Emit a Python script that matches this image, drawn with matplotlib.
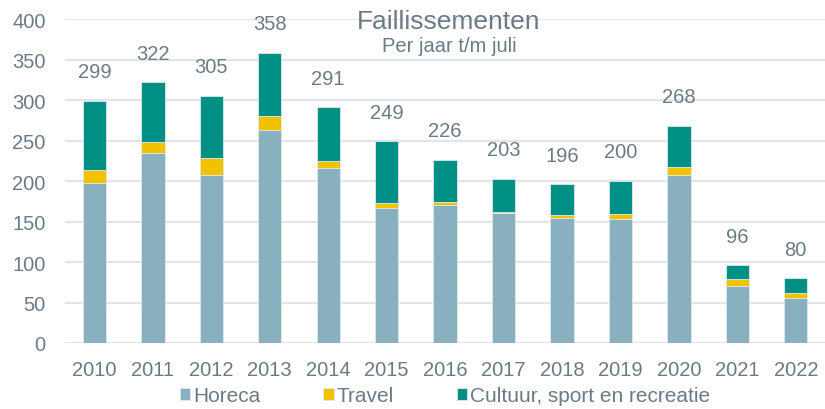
import numpy as np
import matplotlib.pyplot as plt

plt.rcParams['font.family'] = ['Liberation Sans', 'DejaVu Sans']

years = ['2010', '2011', '2012', '2013', '2014', '2015', '2016',
         '2017', '2018', '2019', '2020', '2021', '2022']
horeca = [198, 235, 208, 263, 216, 167, 171, 160, 154, 153, 208, 70, 55]
travel = [16, 13, 21, 17, 9, 6, 3, 2, 4, 6, 9, 9, 7]
cultuur = [85, 74, 76, 78, 66, 76, 52, 41, 38, 41, 51, 17, 18]
totals = [299, 322, 305, 358, 291, 249, 226, 203, 196, 200, 268, 96, 80]

txt = '#6b7b86'
c_hor = '#88b0be'
c_trv = '#f2c100'
c_cul = '#009085'

fig = plt.figure(figsize=(8.25, 4.10), dpi=100)
ax = fig.add_axes([0.079, 0.161, 0.921, 0.79])

x = np.arange(len(years))
w = 0.4
h = np.array(horeca)
t = np.array(travel)
c = np.array(cultuur)
ax.bar(x, h, w, color=c_hor, edgecolor='#dfe8ec', linewidth=0.6, label='Horeca', zorder=3)
ax.bar(x, t, w, bottom=h, color=c_trv, edgecolor='#dfe8ec', linewidth=0.6, label='Travel', zorder=3)
ax.bar(x, c, w, bottom=h + t, color=c_cul, edgecolor='#dfe8ec', linewidth=0.6,
       label='Cultuur, sport en recreatie', zorder=3)

for xi, tot in zip(x, totals):
    ax.annotate(str(tot), (xi, tot), xytext=(0, 21), textcoords='offset points',
                ha='center', va='center', fontsize=14.5, color=txt)

ax.set_xlim(-0.5, len(years) - 0.5)
ax.set_ylim(0, 400)
ax.set_yticks(range(0, 401, 50))
ax.set_xticks(x)
ax.set_xticklabels(years)
ax.tick_params(length=0, labelsize=14.5, labelcolor=txt)
ax.tick_params(axis='y', pad=14)
ax.tick_params(axis='x', pad=12)
ax.yaxis.grid(True, color='#e1e5e9', linewidth=1.5, zorder=0)
for s in ax.spines.values():
    s.set_visible(False)

ax.text(0.505, 0.995, 'Faillissementen', transform=ax.transAxes, ha='center', va='center',
        fontsize=19, color=txt)
ax.text(0.505, 0.917, 'Per jaar t/m juli', transform=ax.transAxes, ha='center', va='center',
        fontsize=14.5, color=txt)

ax.legend(loc='center', bbox_to_anchor=(0.5, -0.163), ncol=3, frameon=False,
          fontsize=15, labelcolor=txt, handlelength=0.5, handleheight=0.5,
          handletextpad=0.15, columnspacing=3.0, borderpad=0.1)

fig.savefig('out.png')
